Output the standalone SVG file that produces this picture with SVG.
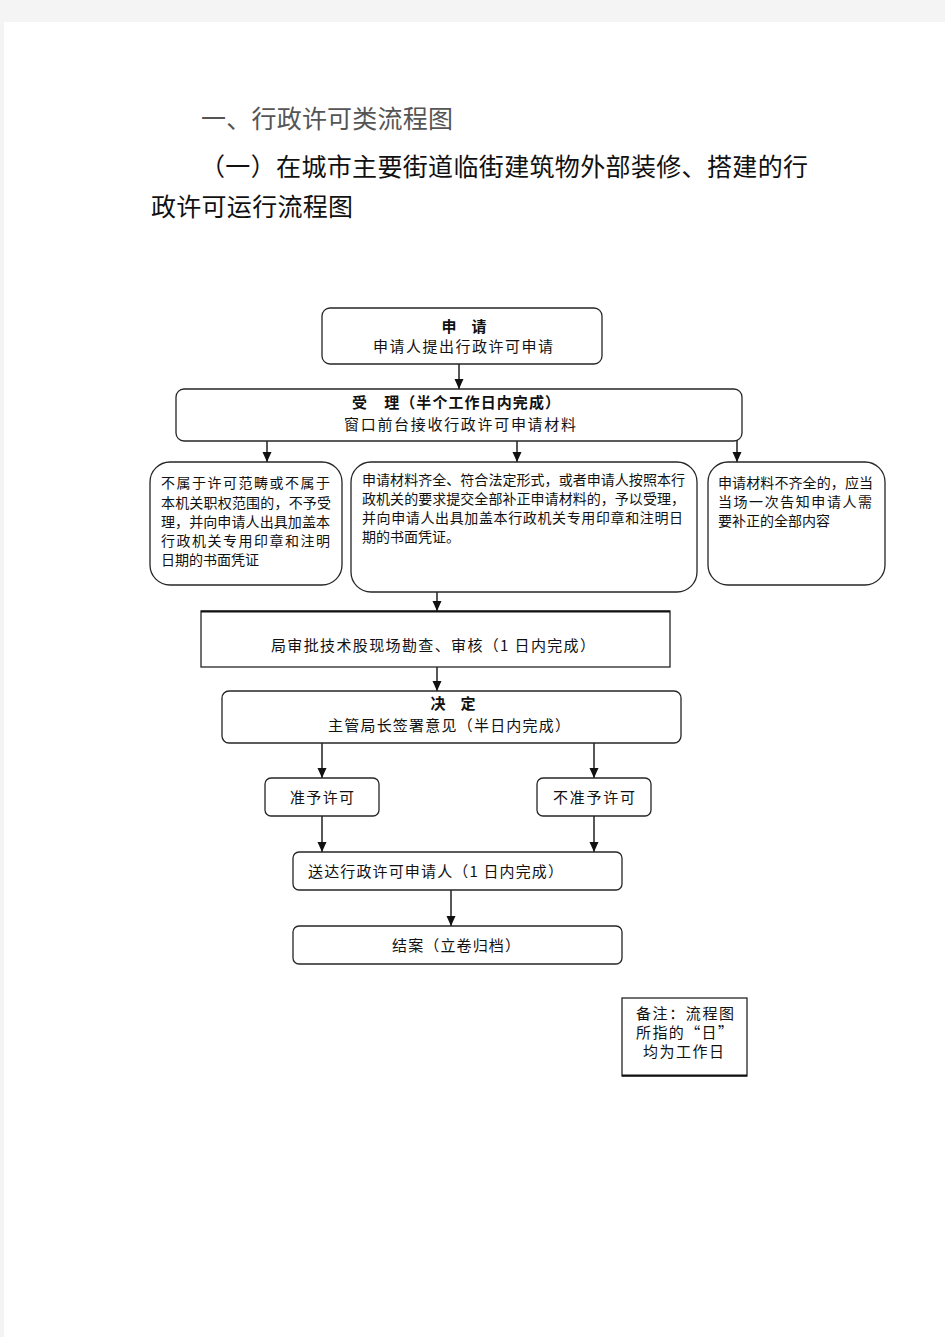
<svg xmlns="http://www.w3.org/2000/svg" width="945" height="1337" viewBox="0 0 945 1337">
<style>
.bx{fill:#fff;stroke:#262626;stroke-width:1.3}
.t{font-family:"Noto Sans CJK SC","Noto Sans",sans-serif;font-size:15px;fill:#111}
.s{font-size:14px}
.b{font-weight:bold}
.m{text-anchor:middle}
.h{font-family:"Noto Sans CJK SC","Noto Sans",sans-serif;font-size:25px;fill:#111}
.ln{stroke:#111;stroke-width:1.4;fill:none;marker-end:url(#ah)}
</style>
<defs>
<marker id="ah" markerUnits="userSpaceOnUse" markerWidth="10" markerHeight="10" refX="10" refY="4.5" orient="auto">
<path d="M0,0 L10,4.5 L0,9 z" fill="#111"/>
</marker>
</defs>
<rect x="0" y="0" width="945" height="1337" fill="#f4f4f4"/>
<rect x="4" y="22" width="941" height="1315" fill="#fff"/>

<g id="title">
<text class="h" x="201" y="128" style="fill:#555" textLength="252" lengthAdjust="spacing">一、行政许可类流程图</text>
<text class="h" x="200" y="176" textLength="608" lengthAdjust="spacing">（一）在城市主要街道临街建筑物外部装修、搭建的行</text>
<text class="h" x="151" y="216" textLength="202" lengthAdjust="spacing">政许可运行流程图</text>
</g>

<g id="connectors">
<line class="ln" x1="459" y1="364" x2="459" y2="389"/>
<line class="ln" x1="267" y1="441" x2="267" y2="462"/>
<line class="ln" x1="517" y1="441" x2="517" y2="462"/>
<line class="ln" x1="737" y1="438" x2="737" y2="462"/>
<line class="ln" x1="437" y1="592" x2="437" y2="611"/>
<line class="ln" x1="437" y1="667" x2="437" y2="691"/>
<line class="ln" x1="322" y1="741" x2="322" y2="778"/>
<line class="ln" x1="594" y1="741" x2="594" y2="778"/>
<line class="ln" x1="322" y1="816" x2="322" y2="852"/>
<line class="ln" x1="594" y1="816" x2="594" y2="852"/>
<line class="ln" x1="451" y1="890" x2="451" y2="926"/>
</g>

<g id="apply">
<rect class="bx" x="322" y="308" width="280" height="56" rx="8"/>
<text class="t b m" x="464" y="332">申　请</text>
<text class="t m" x="463" y="352" textLength="180" lengthAdjust="spacing">申请人提出行政许可申请</text>
</g>

<g id="accept">
<rect class="bx" x="176" y="389" width="566" height="52" rx="8"/>
<text class="t b" x="352" y="408" textLength="208" lengthAdjust="spacing">受　理（半个工作日内完成）</text>
<text class="t" x="344" y="430" textLength="232" lengthAdjust="spacing">窗口前台接收行政许可申请材料</text>
</g>

<g id="reject">
<rect class="bx" x="150" y="462" width="192" height="123" rx="20"/>
<text class="t s" x="161" y="488" textLength="169" lengthAdjust="spacing">不属于许可范畴或不属于</text>
<text class="t s" x="161" y="508" textLength="170" lengthAdjust="spacing">本机关职权范围的，不予受</text>
<text class="t s" x="161" y="527" textLength="169" lengthAdjust="spacing">理，并向申请人出具加盖本</text>
<text class="t s" x="161" y="546" textLength="169" lengthAdjust="spacing">行政机关专用印章和注明</text>
<text class="t s" x="161" y="565">日期的书面凭证</text>
</g>

<g id="accepted">
<rect class="bx" x="351" y="462" width="346" height="130" rx="20"/>
<text class="t s" x="362" y="485" textLength="323" lengthAdjust="spacing">申请材料齐全、符合法定形式，或者申请人按照本行</text>
<text class="t s" x="362" y="504" textLength="323" lengthAdjust="spacing">政机关的要求提交全部补正申请材料的，予以受理，</text>
<text class="t s" x="362" y="523" textLength="321" lengthAdjust="spacing">并向申请人出具加盖本行政机关专用印章和注明日</text>
<text class="t s" x="362" y="542">期的书面凭证。</text>
</g>

<g id="incomplete">
<rect class="bx" x="708" y="462" width="177" height="123" rx="20"/>
<text class="t s" x="718" y="488" textLength="155" lengthAdjust="spacing">申请材料不齐全的，应当</text>
<text class="t s" x="718" y="507" textLength="154" lengthAdjust="spacing">当场一次告知申请人需</text>
<text class="t s" x="718" y="526">要补正的全部内容</text>
</g>

<g id="review">
<rect class="bx" x="201" y="611" width="469" height="56"/>
<line x1="201" y1="611.5" x2="670" y2="611.5" stroke="#111" stroke-width="2.2"/>
<text class="t" x="271" y="651" textLength="324" lengthAdjust="spacing">局审批技术股现场勘查、审核（1 日内完成）</text>
</g>

<g id="decide">
<rect class="bx" x="222" y="691" width="459" height="52" rx="7"/>
<text class="t b m" x="453" y="709">决　定</text>
<text class="t" x="328" y="731" textLength="242" lengthAdjust="spacing">主管局长签署意见（半日内完成）</text>
</g>

<g id="grant">
<rect class="bx" x="265" y="778" width="114" height="38" rx="6"/>
<text class="t" x="290" y="803" textLength="64" lengthAdjust="spacing">准予许可</text>
</g>

<g id="deny">
<rect class="bx" x="537" y="778" width="114" height="38" rx="6"/>
<text class="t" x="553" y="803" textLength="82" lengthAdjust="spacing">不准予许可</text>
</g>

<g id="deliver">
<rect class="bx" x="293" y="852" width="329" height="38" rx="6"/>
<text class="t" x="308" y="877" textLength="255" lengthAdjust="spacing">送达行政许可申请人（1 日内完成）</text>
</g>

<g id="close">
<rect class="bx" x="293" y="926" width="329" height="38" rx="6"/>
<text class="t" x="392" y="951" textLength="128" lengthAdjust="spacing">结案（立卷归档）</text>
</g>

<g id="note">
<rect class="bx" x="622" y="998" width="125" height="78"/>
<line x1="622" y1="1075.5" x2="747" y2="1075.5" stroke="#111" stroke-width="2.2"/>
<text class="t" x="636" y="1019" textLength="98" lengthAdjust="spacing">备注：流程图</text>
<text class="t" x="636" y="1038" textLength="97" lengthAdjust="spacing">所指的“日”</text>
<text class="t" x="643" y="1057" textLength="81" lengthAdjust="spacing">均为工作日</text>
</g>
</svg>
